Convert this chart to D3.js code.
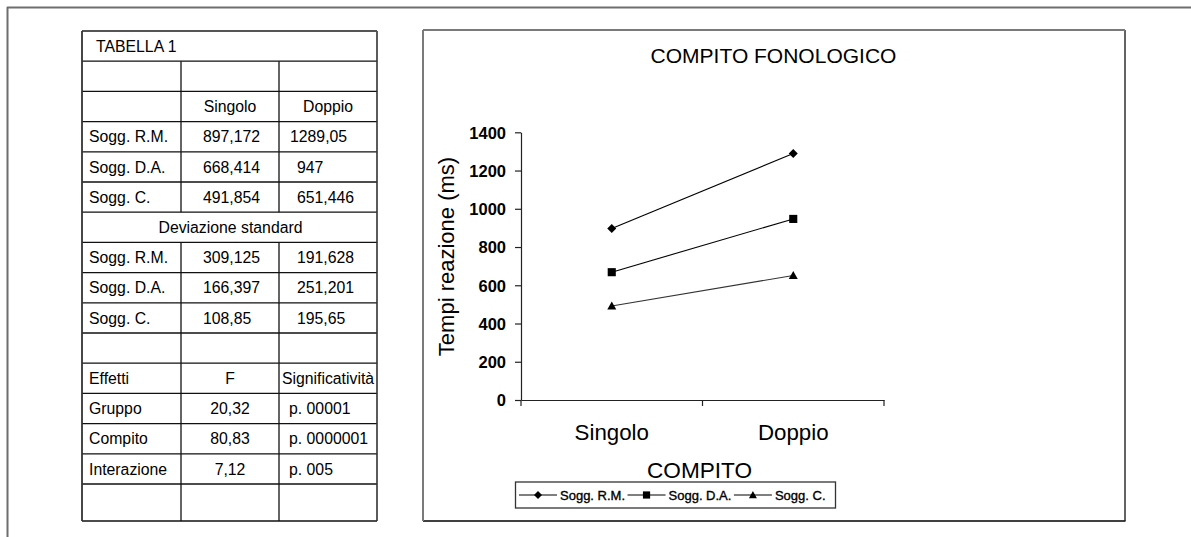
<!DOCTYPE html>
<html>
<head>
<meta charset="utf-8">
<script src="https://cdn.jsdelivr.net/npm/d3@7"></script>
<style>
  html, body { margin: 0; padding: 0; background: #fff; }
  svg { display: block; }
  text { font-family: "Liberation Sans", Arial, Helvetica, sans-serif; fill: #000; }
</style>
</head>
<body>
<svg id="chart" width="1191" height="537"></svg>
<script>
// ---------------- DATA ----------------
const tableTitle = "TABELLA 1";
const conditions = ["Singolo", "Doppio"];
const groups = ["Sogg. R.M.", "Sogg. D.A.", "Sogg. C."];
const meanSingolo = [897.172, 668.414, 491.854];
const meanDoppio = [1289.05, 947, 651.446];
const sdTitle = "Deviazione standard";
const sdSingolo = [309.125, 166.397, 108.85];
const sdDoppio = [191.628, 251.201, 195.65];
const effectsHeader = ["Effetti", "F", "Significatività"];
const effects = ["Gruppo", "Compito", "Interazione"];
const effectF = ["20,32", "80,83", "7,12"];
const effectP = ["p. 00001", "p. 0000001", "p. 005"];

const chartTitle = "COMPITO FONOLOGICO";
const yAxisLabel = "Tempi reazione (ms)";
const xAxisLabel = "COMPITO";
const yTicks = [0, 200, 400, 600, 800, 1000, 1200, 1400];
const markerTypes = ["diamond", "square", "triangle"];

// ---------------- SETUP ----------------
const svg = d3.select("#chart");
const fmt = v => String(v).replace(".", ",");

svg.append("line").attr("x1", 7).attr("y1", 7.5).attr("x2", 1191).attr("y2", 7.5)
  .attr("stroke", "#6e6e6e").attr("stroke-width", 2);
svg.append("line").attr("x1", 7.5).attr("y1", 7).attr("x2", 7.5).attr("y2", 537)
  .attr("stroke", "#6e6e6e").attr("stroke-width", 2);

// ---------------- TABLE ----------------
const T = { left: 82, c1: 181, c2: 279, right: 377, top: 31, rowH: 30.2, lastH: 37 };
const nRows = 16;
const rowTop = i => i < nRows ? T.top + i * T.rowH : T.top + (nRows - 1) * T.rowH + T.lastH;
const tbl = svg.append("g").attr("class", "table");

const rows = [];
rows.push({ span: tableTitle, align: "left" });
rows.push({ cells: ["", "", ""] });
rows.push({ cells: ["", conditions[0], conditions[1]], a: ["l", "c", "c"] });
groups.forEach((g, i) => rows.push({ cells: [g, fmt(meanSingolo[i]), fmt(meanDoppio[i])], a: ["l", "n2", "n3"] }));
rows.push({ span: sdTitle, align: "center" });
groups.forEach((g, i) => rows.push({ cells: [g, fmt(sdSingolo[i]), fmt(sdDoppio[i])], a: ["l", "n2", "n3"] }));
rows.push({ cells: ["", "", ""] });
rows.push({ cells: effectsHeader, a: ["l", "c", "c"] });
effects.forEach((e, i) => rows.push({ cells: [e, effectF[i], effectP[i]], a: ["l", "c", "p"] }));
rows.push({ cells: ["", "", ""] });

d3.range(1, nRows).forEach(i => {
  tbl.append("line").attr("x1", T.left).attr("x2", T.right)
    .attr("y1", rowTop(i)).attr("y2", rowTop(i))
    .attr("stroke", "#111").attr("stroke-width", 1.3);
});
rows.forEach((r, i) => {
  if (r.cells) {
    [T.c1, T.c2].forEach(x => {
      tbl.append("line").attr("x1", x).attr("x2", x)
        .attr("y1", rowTop(i)).attr("y2", rowTop(i + 1))
        .attr("stroke", "#111").attr("stroke-width", 1.3);
    });
  }
});
tbl.append("line").attr("x1", T.left).attr("x2", T.right).attr("y1", rowTop(nRows)).attr("y2", rowTop(nRows)).attr("stroke", "#111").attr("stroke-width", 1.5);
tbl.append("line").attr("x1", T.right).attr("x2", T.right).attr("y1", T.top).attr("y2", rowTop(nRows)).attr("stroke", "#333").attr("stroke-width", 1.6);
tbl.append("line").attr("x1", T.left).attr("x2", T.right).attr("y1", T.top).attr("y2", T.top).attr("stroke", "#555").attr("stroke-width", 1.8);
tbl.append("line").attr("x1", T.left).attr("x2", T.left).attr("y1", T.top).attr("y2", rowTop(nRows)).attr("stroke", "#333").attr("stroke-width", 1.8);

const colX = {
  l: { x: 89, anchor: "start" },
  c1: { x: (T.c1 + T.c2) / 2, anchor: "middle" },
  c2: { x: (T.c2 + T.right) / 2, anchor: "middle" },
  n2: { x: 203, anchor: "start" },
  n3: { x: 297, anchor: "start" },
  p: { x: 289, anchor: "start" }
};
const tableFont = 15.8;
rows.forEach((r, i) => {
  const y = rowTop(i) + 20.7;
  if (r.span) {
    tbl.append("text")
      .attr("x", r.align === "left" ? 96 : (T.left + T.right) / 2 + 1)
      .attr("y", y).attr("text-anchor", r.align === "left" ? "start" : "middle")
      .attr("font-size", tableFont).text(r.span);
  } else {
    r.cells.forEach((c, j) => {
      if (!c) return;
      let key = r.a[j];
      if (key === "c") key = j === 1 ? "c1" : "c2";
      let x = colX[key].x;
      if (key === "n3" && c.length > 6 && c.indexOf(",") === 4) x = 290;
      tbl.append("text").attr("x", x).attr("y", y)
        .attr("text-anchor", colX[key].anchor)
        .attr("font-size", tableFont).text(c);
    });
  }
});

// ---------------- CHART ----------------
const F = { left: 423, top: 30, right: 1125, bottom: 521 };
svg.append("line").attr("x1", F.left).attr("x2", F.right + 0.5).attr("y1", F.bottom).attr("y2", F.bottom).attr("stroke", "#000").attr("stroke-width", 1.6);
svg.append("line").attr("x1", F.right).attr("x2", F.right).attr("y1", F.top).attr("y2", F.bottom).attr("stroke", "#222").attr("stroke-width", 1.4);
svg.append("line").attr("x1", F.left).attr("x2", F.right).attr("y1", F.top).attr("y2", F.top).attr("stroke", "#7a7a7a").attr("stroke-width", 2);
svg.append("line").attr("x1", F.left).attr("x2", F.left).attr("y1", F.top).attr("y2", F.bottom).attr("stroke", "#7a7a7a").attr("stroke-width", 2);

const plot = { left: 521, right: 884, top: 132.3, bottom: 400 };
const x = d3.scaleBand().domain(conditions).range([plot.left, plot.right]).padding(0);
const y = d3.scaleLinear().domain([0, 1400]).range([plot.bottom, plot.top]);
const cx = d => x(d) + x.bandwidth() / 2;

svg.append("text").attr("x", 773.5).attr("y", 63).attr("text-anchor", "middle")
  .attr("font-size", 21).text(chartTitle);

const yAxis = svg.append("g").attr("transform", `translate(${plot.left},0)`)
  .call(d3.axisLeft(y).tickValues(yTicks).tickSize(6).tickSizeOuter(0).tickPadding(9).tickFormat(d3.format("d")));
yAxis.select(".domain").attr("stroke", "#222").attr("stroke-width", 1.2);
yAxis.selectAll(".tick line").attr("stroke", "#222").attr("stroke-width", 1.2);
yAxis.selectAll(".tick text").attr("font-family", "'Liberation Sans', Arial, sans-serif")
  .attr("font-size", 16.5).attr("font-weight", "bold").attr("fill", "#000").attr("dy", "0.36em");

const xAxis = svg.append("g").attr("transform", `translate(0,${plot.bottom})`)
  .call(d3.axisBottom(x).tickSize(0).tickSizeOuter(0).tickPadding(0));
xAxis.select(".domain").attr("stroke", "#222").attr("stroke-width", 1.2);
xAxis.selectAll(".tick text").attr("font-size", 22.3).attr("dy", null).attr("y", 40).attr("fill", "#000")
  .attr("font-family", "'Liberation Sans', Arial, sans-serif");
const edges = conditions.map(d => x(d)).concat([x.range()[1]]);
xAxis.selectAll(".edge").data(edges).join("line").attr("class", "edge")
  .attr("x1", d => d).attr("x2", d => d).attr("y1", 0).attr("y2", 6)
  .attr("stroke", "#222").attr("stroke-width", 1.2);

svg.append("text").attr("transform", "translate(454,256.5) rotate(-90)")
  .attr("text-anchor", "middle").attr("font-size", 22).text(yAxisLabel);
svg.append("text").attr("x", 699.5).attr("y", 478.3).attr("text-anchor", "middle")
  .attr("font-size", 22.6).text(xAxisLabel);

function marker(sel, type, s) {
  if (type === "diamond") {
    sel.append("path").attr("d", `M0,${-s}L${s},0L0,${s}L${-s},0Z`).attr("fill", "#000");
  } else if (type === "square") {
    sel.append("rect").attr("x", -s * 0.9).attr("y", -s * 0.9).attr("width", s * 1.8).attr("height", s * 1.8).attr("fill", "#000");
  } else {
    sel.append("path").attr("d", `M0,${-s}L${s},${s * 0.8}L${-s},${s * 0.8}Z`).attr("fill", "#000");
  }
}

const series = groups.map((g, i) => ({
  name: g, type: markerTypes[i],
  values: conditions.map((c, j) => ({ c, v: j === 0 ? meanSingolo[i] : meanDoppio[i] }))
}));
const lineColor = ["#000", "#000", "#333"];
const line = d3.line().x(d => cx(d.c)).y(d => y(d.v));
series.forEach((s, i) => {
  svg.append("path").datum(s.values).attr("d", line).attr("fill", "none")
    .attr("stroke", lineColor[i]).attr("stroke-width", 1.1);
  s.values.forEach(d => {
    const g = svg.append("g").attr("transform", `translate(${cx(d.c)},${y(d.v)})`);
    marker(g, s.type, 4.5);
  });
});

const L = { x: 515.5, y: 482, h: 26 };
const leg = svg.append("g");
leg.append("rect").attr("x", L.x).attr("y", L.y).attr("height", L.h).attr("width", 320)
  .attr("fill", "#fff").attr("stroke", "#333").attr("stroke-width", 1.3);
let lx = L.x + 3.5;
const ly = L.y + L.h / 2;
series.forEach((s, i) => {
  leg.append("line").attr("x1", lx).attr("x2", lx + 38).attr("y1", ly).attr("y2", ly)
    .attr("stroke", "#000").attr("stroke-width", 1.1);
  const g = leg.append("g").attr("transform", `translate(${lx + 19},${ly})`);
  marker(g, s.type, 4);
  const t = leg.append("text").attr("x", lx + 41).attr("y", ly + 5).attr("font-size", 13)
    .attr("stroke", "#000").attr("stroke-width", 0.35).text(s.name);
  lx = lx + 41 + t.node().getComputedTextLength() + 2.5;
});
</script>
</body>
</html>
